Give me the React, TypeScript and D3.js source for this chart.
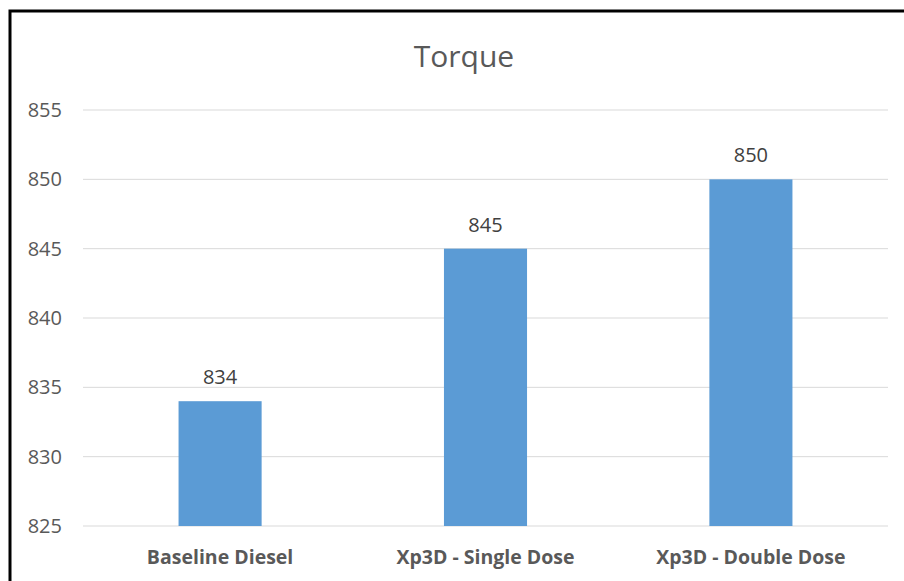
import React, { useEffect, useRef } from 'react';
import * as d3 from 'd3';

const categories = ['Baseline Diesel', 'Xp3D - Single Dose', 'Xp3D - Double Dose'];
const torque = [834, 845, 850];
const yTicks = [825, 830, 835, 840, 845, 850, 855];

const App: React.FC = () => {
	const svgRef = useRef<SVGSVGElement>(null);

	useEffect(() => {
		document.body.style.margin = '0';
		if (svgRef.current == null) return;
		const width = 904;
		const height = 581;
		const margin = { top: 110, right: 16, bottom: 55, left: 83 };

		const svg = d3.select(svgRef.current)
			.attr('width', width)
			.attr('height', height);
		svg.selectAll('*').remove();

		svg.append('rect')
			.attr('width', width)
			.attr('height', height)
			.attr('fill', '#fff');

		// outer frame (only left and top visible in the crop)
		svg.append('path')
			.attr('d', `M10,${height} L10,11 L${width},11`)
			.attr('fill', 'none')
			.attr('stroke', '#000')
			.attr('stroke-width', 3);

		const x = d3.scaleBand<string>()
			.domain(categories)
			.range([margin.left, width - margin.right])
			.paddingInner(0.687)
			.paddingOuter(0.36);

		const y = d3.scaleLinear()
			.domain([825, 855])
			.range([height - margin.bottom, margin.top]);

		const font = "'Open Sans', 'Segoe UI', sans-serif";

		// gridlines
		svg.append('g')
			.selectAll('line')
			.data(yTicks)
			.join('line')
			.attr('x1', margin.left)
			.attr('x2', width - margin.right)
			.attr('y1', d => y(d))
			.attr('y2', d => y(d))
			.attr('stroke', '#d9d9d9')
			.attr('stroke-width', 1);

		// y tick labels
		svg.append('g')
			.selectAll('text')
			.data(yTicks)
			.join('text')
			.attr('x', 62)
			.attr('y', d => y(d))
			.attr('dy', '0.35em')
			.attr('text-anchor', 'end')
			.style('font-family', font)
			.style('font-size', '20px')
			.style('fill', '#595959')
			.text(d => d);

		// bars
		svg.append('g')
			.selectAll('rect')
			.data(torque)
			.join('rect')
			.attr('x', (_, i) => x(categories[i])!)
			.attr('width', x.bandwidth())
			.attr('y', d => y(d))
			.attr('height', d => y(825) - y(d))
			.attr('fill', '#5b9bd5');

		// value labels
		svg.append('g')
			.selectAll('text')
			.data(torque)
			.join('text')
			.attr('x', (_, i) => x(categories[i])! + x.bandwidth() / 2)
			.attr('y', d => y(d) - 17)
			.attr('text-anchor', 'middle')
			.style('font-family', font)
			.style('font-size', '20px')
			.style('fill', '#404040')
			.text(d => d);

		// category labels
		svg.append('g')
			.selectAll('text')
			.data(categories)
			.join('text')
			.attr('x', d => x(d)! + x.bandwidth() / 2)
			.attr('y', height - margin.bottom + 38)
			.attr('text-anchor', 'middle')
			.style('font-family', font)
			.style('font-size', '19.5px')
			.style('font-weight', 'bold')
			.style('fill', '#595959')
			.text(d => d);

		// title
		svg.append('text')
			.attr('x', 464)
			.attr('y', 67)
			.attr('text-anchor', 'middle')
			.style('font-family', font)
			.style('font-size', '30px')
			.style('fill', '#595959')
			.text('Torque');
	}, []);

	return <svg ref={svgRef} style={{ display: 'block' }}></svg>;
};

export default App;
